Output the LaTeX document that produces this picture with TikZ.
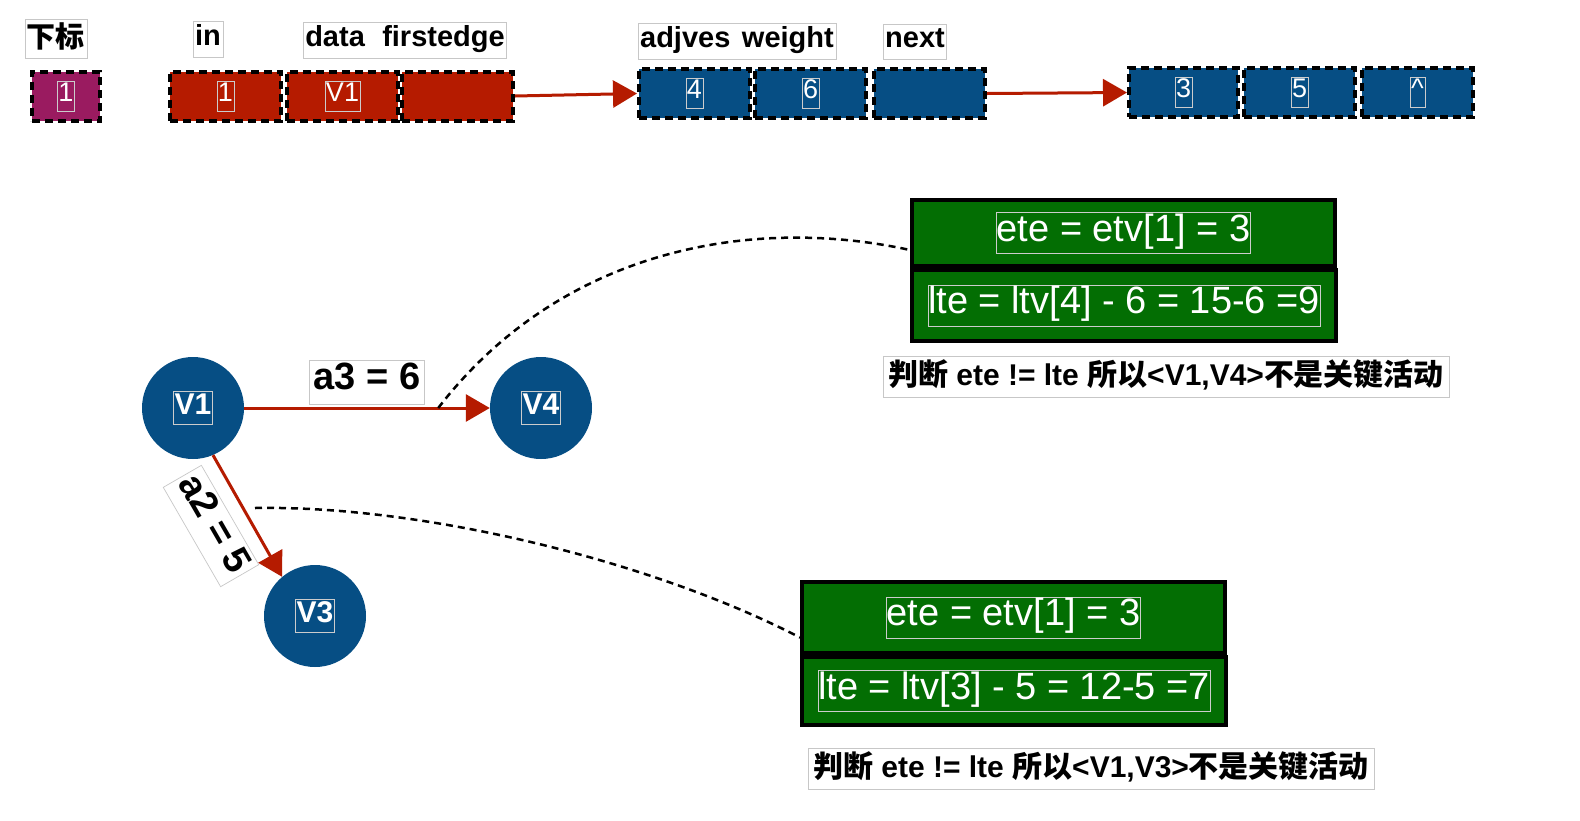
\documentclass[tikz,border=0pt]{standalone}
\usepackage{fontspec}
\setmainfont{Liberation Sans}
\newfontfamily\cjk{Noto Sans CJK SC}
\usetikzlibrary{arrows.meta,calc}
\definecolor{cpurple}{HTML}{9A1B60}
\definecolor{cred}{HTML}{B51B00}
\definecolor{cblue}{HTML}{064E84}
\definecolor{cgreen}{HTML}{036E03}
\newcommand\fsz[1]{\fontsize{#1}{#1}\selectfont}
\begin{document}
\begin{tikzpicture}[x=1pt,y=-1pt,
  cell/.style={draw=black, line width=4pt, dash pattern=on 8pt off 5pt,
    minimum width=111pt, minimum height=49pt, inner sep=0pt},
  wtxt/.style={draw=white!60!gray, line width=0.6pt, text=white, inner xsep=1pt,
    inner ysep=1.5pt, execute at begin node=\strut},
  lbl/.style={draw=black!22, line width=0.7pt, text=black, inner xsep=2pt,
    inner ysep=3pt, execute at begin node=\strut, font=\fsz{29}\bfseries},
  vert/.style={circle, fill=cblue, minimum size=102pt, inner sep=0pt},
  gbox/.style={draw=black, line width=4pt, fill=cgreen, inner sep=0pt},
  redarrow/.style={draw=cred, line width=3pt, -{Triangle[length=24pt,width=27pt]}},
  dashcurve/.style={draw=black, line width=2.5pt, dash pattern=on 7pt off 5pt},
  concl/.style={draw=black!22, line width=0.7pt, inner xsep=5pt, inner ysep=3pt,
    execute at begin node=\strut, font=\fsz{30}\bfseries}
]
\fill[white] (0,0) rectangle (1580,820);
\useasboundingbox (0,0) rectangle (1580,820);

% ---- top row labels
\node[lbl, font=\fsz{29}\bfseries\cjk] (Lxb) at (56,39) {下标};
\node[lbl] (Lin) at (208,39) {in};
\node[lbl] (Ldf) at (405,40) {data\hspace{0.6em}firstedge};
\node[lbl] (Law) at (737,41) {adjves\hspace{0.4em}weight};
\node[lbl] (Lnx) at (915,42) {next};

% ---- top row cells
\node[cell, fill=cpurple, minimum width=68pt] (p1) at (66,96) {};
\node[cell, fill=cred] (r1) at (225.5,96) {};
\node[cell, fill=cred] (r2) at (342.5,96) {};
\node[cell, fill=cred] (r3) at (457.5,96) {};
\node[cell, fill=cblue] (b1) at (694.5,93.5) {};
\node[cell, fill=cblue] (b2) at (810.5,93.5) {};
\node[cell, fill=cblue] (b3) at (929.5,93.5) {};
\node[cell, fill=cblue, minimum width=109pt] (c1) at (1183.5,92.5) {};
\node[cell, fill=cblue] (c2) at (1299.5,92.5) {};
\node[cell, fill=cblue] (c3) at (1417.5,92.5) {};

\node[wtxt, font=\fsz{27}] (tp1) at (p1.center) {1};
\node[wtxt, font=\fsz{27}] (tr1) at (r1.center) {1};
\node[wtxt, font=\fsz{27}] (tr2) at (r2.center) {V1};
\node[wtxt, font=\fsz{27}] (tb1) at (b1.center) {4};
\node[wtxt, font=\fsz{27}] (tb2) at (b2.center) {6};
\node[wtxt, font=\fsz{27}] (tc1) at (c1.center) {3};
\node[wtxt, font=\fsz{27}] (tc2) at (c2.center) {5};
\node[wtxt, font=\fsz{27}] (tc3) at (c3.center) {\^{}};

\draw[redarrow] (r3.east) -- (b1.west);
\draw[redarrow] (b3.east) -- (c1.west);

% ---- graph
\node[vert] (V1) at (193,408) {};
\node[vert] (V4) at (541,408) {};
\node[vert] (V3) at (315,616) {};
\node[wtxt, font=\fsz{30}\bfseries] (tV1) at (V1.center) {V1};
\node[wtxt, font=\fsz{30}\bfseries] (tV4) at (V4.center) {V4};
\node[wtxt, font=\fsz{30}\bfseries] (tV3) at (V3.center) {V3};

\draw[redarrow] (V1.east) -- (V4.west);
\draw[redarrow] (V1.-67) -- (V3.130);
\node[lbl, font=\fsz{38}\bfseries, inner xsep=4pt, inner ysep=3pt] (La3) at (367,382) {a3 = 6};
\node[lbl, font=\fsz{38}\bfseries, inner xsep=4pt, inner ysep=3pt, rotate=-60] (La2) at (211,526) {a2 = 5};

% ---- green boxes
\node[gbox, minimum width=423pt, minimum height=66pt] (g1a) at (1123.5,233) {};
\node[gbox, minimum width=424pt, minimum height=71pt] (g1b) at (1124,305.5) {};
\node[wtxt, font=\fsz{38}, inner xsep=0pt, inner ysep=1pt] (tg1a) at (g1a.center) {ete = etv[1] = 3};
\node[wtxt, font=\fsz{38}, inner xsep=0pt, inner ysep=1pt] (tg1b) at (g1b.center) {lte = ltv[4] - 6 = 15-6 =9};
\node[concl] (n1) at (1166,377) {{\cjk 判断} ete != lte {\cjk 所以}<V1,V4>{\cjk 不是关键活动}};

\node[gbox, minimum width=423pt, minimum height=71pt] (g2a) at (1013.5,617.5) {};
\node[gbox, minimum width=424pt, minimum height=68pt] (g2b) at (1014,691) {};
\node[wtxt, font=\fsz{38}, inner xsep=0pt, inner ysep=1pt] (tg2a) at (g2a.center) {ete = etv[1] = 3};
\node[wtxt, font=\fsz{38}, inner xsep=0pt, inner ysep=1pt] (tg2b) at (g2b.center) {lte = ltv[3] - 5 = 12-5 =7};
\node[concl] (n2) at (1091,769) {{\cjk 判断} ete != lte {\cjk 所以}<V1,V3>{\cjk 不是关键活动}};

% ---- dashed connectors
\coordinate (cA) at ($(V1.east)!0.79!(V4.west)$);
\coordinate (eA) at ($(g1a.west)+(0,17)$);
\coordinate (cB) at (255,508);
\coordinate (eB) at ($(g2a.west)+(0,20)$);
\draw[dashcurve] (cA) .. controls (560,250) and (750,215) .. (eA);
\draw[dashcurve] (cB) .. controls (420,505) and (650,560) .. (eB);
\end{tikzpicture}
\end{document}
